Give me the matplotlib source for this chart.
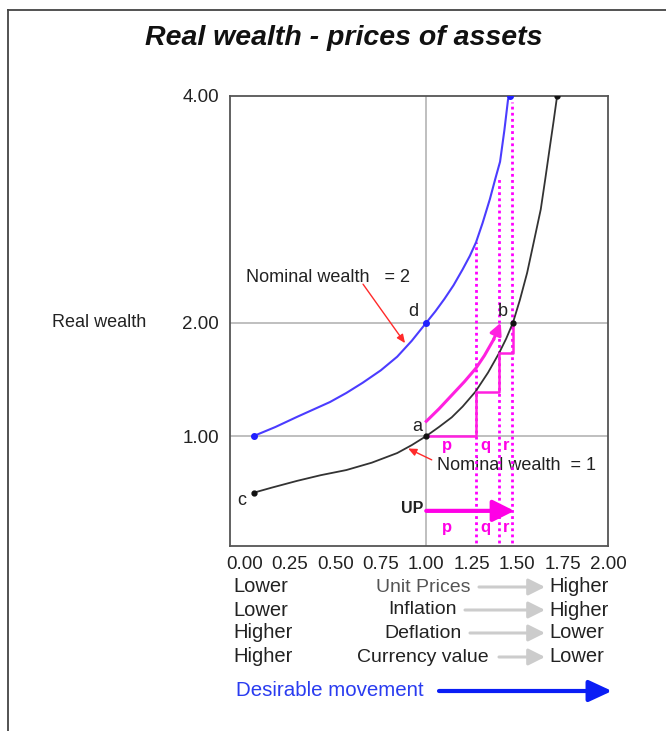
import matplotlib
matplotlib.use("Agg")
import matplotlib.pyplot as plt

plt.rcParams['font.family'] = ['Liberation Sans', 'DejaVu Sans']

# nominal wealth = 1 (black) and = 2 (blue)
black_x = [0.05, 0.15, 0.29, 0.42, 0.56, 0.70, 0.84, 0.92, 1.00, 1.07, 1.14, 1.20, 1.27,
           1.34, 1.40, 1.44, 1.477, 1.515, 1.555, 1.59, 1.63, 1.655, 1.68, 1.70, 1.72]
black_y = [0.50, 0.545, 0.605, 0.655, 0.70, 0.765, 0.85, 0.92, 1.00, 1.08, 1.165, 1.26, 1.39,
           1.56, 1.73, 1.86, 2.00, 2.20, 2.44, 2.70, 3.00, 3.27, 3.55, 3.77, 4.00]
blue_x = [0.05, 0.17, 0.29, 0.38, 0.47, 0.56, 0.65, 0.75, 0.84, 0.92, 1.00, 1.05, 1.10, 1.15,
          1.20, 1.24, 1.274, 1.31, 1.35, 1.38, 1.406, 1.43, 1.45, 1.46]
blue_y = [1.00, 1.08, 1.17, 1.235, 1.30, 1.38, 1.47, 1.58, 1.70, 1.84, 2.00, 2.10, 2.21, 2.33,
          2.47, 2.59, 2.71, 2.88, 3.09, 3.27, 3.42, 3.70, 3.97, 4.00]

# magenta steps p, q, r and the arc from a towards b
step_x = [1.00, 1.274, 1.274, 1.40, 1.40, 1.477, 1.477]
step_y = [1.00, 1.00, 1.39, 1.39, 1.73, 1.73, 2.00]
arc_x = [1.00, 1.07, 1.14, 1.21, 1.274, 1.32, 1.37, 1.41]
arc_y = [1.13, 1.24, 1.36, 1.48, 1.60, 1.71, 1.85, 2.00]
dot_x = [1.274, 1.40, 1.472]
dot_top = [2.71, 3.27, 3.95]
up_start, up_end, up_y = 1.0, 1.485, 0.34

pts_black_x = [0.05, 1.00, 1.477, 1.72]
pts_black_y = [0.50, 1.00, 2.00, 4.00]
pts_blue_x = [0.05, 1.00, 1.46]
pts_blue_y = [1.00, 2.00, 4.00]

x_ticks = [0, 0.25, 0.5, 0.75, 1.0, 1.25, 1.5, 1.75, 2.0]
y_ticks = [1, 2, 4]

left_words = ['Lower', 'Lower', 'Higher', 'Higher']
mid_words = ['Unit Prices', 'Inflation', 'Deflation', 'Currency value']
right_words = ['Higher', 'Higher', 'Lower', 'Lower']

W, H = 666, 731
fig = plt.figure(figsize=(W / 100, H / 100), dpi=100)
ax = fig.add_axes([230 / W, 1 - 546 / H, 378 / W, 450 / H])

def fx(px):
    return px / W

def fy(py):
    return 1 - py / H

# grid lines
for yv in [1, 2]:
    ax.axhline(yv, color='#b4b4b4', lw=1.2, zorder=1)
ax.axvline(1.0, color='#b4b4b4', lw=1.2, zorder=1)

# dotted guides
for xv, top in zip(dot_x, dot_top):
    ax.plot([xv, xv], [0, top], color='#ff00ff', lw=2, ls=(0, (1, 1.2)), zorder=2)

ax.plot(black_x, black_y, color='#333333', lw=1.3, zorder=3, solid_joinstyle='round')
ax.plot(blue_x, blue_y, color='#4b3cff', lw=1.5, zorder=3, solid_joinstyle='round')
ax.plot(pts_black_x, pts_black_y, 'o', color='#111111', ms=3.5, zorder=4)
ax.plot(pts_blue_x, pts_blue_y, 'o', color='#2020ff', ms=4, zorder=4)

ax.plot(step_x, step_y, color='#ff20e0', lw=1.8, zorder=3)
ax.plot(arc_x[:-1], arc_y[:-1], color='#ff20e0', lw=2.2, zorder=3, solid_joinstyle='round')
ax.annotate('', xy=(arc_x[-1], arc_y[-1]), xytext=(arc_x[-2], arc_y[-2]),
            arrowprops=dict(arrowstyle='-|>,head_length=7,head_width=3.5', mutation_scale=1,
                            color='#ff20e0', lw=2.2, shrinkA=0, shrinkB=0), zorder=3)

# UP arrow
ax.annotate('', xy=(up_end, up_y), xytext=(up_start, up_y),
            arrowprops=dict(arrowstyle='-|>,head_length=13,head_width=6.5', mutation_scale=1,
                            color='#ff00e6', lw=3, shrinkA=0, shrinkB=0), zorder=3)
ax.text(0.985, 0.36, 'UP', ha='right', va='center', fontsize=11.5, fontweight='bold', color='#222222')

mag = '#ff00e6'
for lab, xv in zip(['p', 'q', 'r'], [1.114, 1.323, 1.44]):
    ax.text(xv, 0.92, lab, ha='center', va='center', fontsize=12, fontweight='bold', color=mag)
    ax.text(xv, 0.19, lab, ha='center', va='center', fontsize=12, fontweight='bold', color=mag)

txt = '#222222'
ax.text(0.95, 1.08, 'a', ha='center', va='center', fontsize=13, color=txt)
ax.text(0.93, 2.10, 'd', ha='center', va='center', fontsize=13, color=txt)
ax.text(1.42, 2.10, 'b', ha='center', va='center', fontsize=13, color=txt)
ax.text(-0.015, 0.43, 'c', ha='center', va='center', fontsize=13, color=txt)

ax.text(0.008, 2.40, 'Nominal wealth   = 2', ha='left', va='center', fontsize=13, color=txt)
ax.annotate('', xy=(0.883, 1.82), xytext=(0.652, 2.34),
            arrowprops=dict(arrowstyle='-|>,head_length=5,head_width=2.2', mutation_scale=1,
                            color='#ff2a2a', lw=1, shrinkA=0, shrinkB=0))
ax.text(1.06, 0.74, 'Nominal wealth  = 1', ha='left', va='center', fontsize=13, color=txt, zorder=1.5)
ax.annotate('', xy=(0.90, 0.89), xytext=(1.03, 0.79),
            arrowprops=dict(arrowstyle='-|>,head_length=5,head_width=2.2', mutation_scale=1,
                            color='#ff2a2a', lw=1, shrinkA=0, shrinkB=0))

ax.set_xlim(-0.08, 2.0)
ax.set_ylim(0.03, 4.0)
ax.set_xticks(x_ticks)
ax.set_xticklabels(['%.2f' % v for v in x_ticks])
ax.set_yticks(y_ticks)
ax.set_yticklabels(['%.2f' % v for v in y_ticks])
ax.tick_params(length=0, labelsize=13.5, labelcolor=txt)
ax.tick_params(axis='x', pad=7)
ax.tick_params(axis='y', pad=8)
for s in ax.spines.values():
    s.set_color('#555555')
    s.set_linewidth(1.3)

# title, side label, frame
fig.text(fx(344), fy(38), 'Real wealth - prices of assets', ha='center', va='center',
         fontsize=20.5, fontweight='bold', fontstyle='italic', color='#111111')
fig.text(fx(52), fy(322), 'Real wealth', ha='left', va='center', fontsize=13, color=txt)
fig.add_artist(plt.Line2D([fx(8), fx(8)], [fy(10), 0], color='#444444', lw=1.3))
fig.add_artist(plt.Line2D([fx(8), 1], [fy(10), fy(10)], color='#444444', lw=1.3))

# bottom table of movements
rows = [587, 610, 633, 657]
arrow_starts = [479, 465, 470, 499]
for i in range(4):
    fig.text(fx(233), fy(rows[i]), left_words[i], ha='left', va='center', fontsize=14.5, color=txt)
    fig.text(fx(423), fy(rows[i]), mid_words[i], ha='center', va='center', fontsize=14,
             color='#555555' if i == 0 else txt)
    fig.text(fx(549), fy(rows[i]), right_words[i], ha='left', va='center', fontsize=14.5, color=txt)
    ax.annotate('', xy=(545, H - rows[i]), xytext=(arrow_starts[i], H - rows[i]),
                xycoords='figure pixels', textcoords='figure pixels', annotation_clip=False,
                arrowprops=dict(arrowstyle='-|>,head_length=10,head_width=5', mutation_scale=1,
                                color='#cccccc', lw=2.2, shrinkA=0, shrinkB=0))

fig.text(fx(236), fy(691), 'Desirable movement', ha='left', va='center', fontsize=14.8, color='#2a3cf0')
ax.annotate('', xy=(612, H - 691), xytext=(439, H - 691),
            xycoords='figure pixels', textcoords='figure pixels', annotation_clip=False,
            arrowprops=dict(arrowstyle='-|>,head_length=14,head_width=6.5', mutation_scale=1,
                            color='#0a1ef5', lw=3, shrinkA=0, shrinkB=0))

fig.savefig('out.png', dpi=100)
